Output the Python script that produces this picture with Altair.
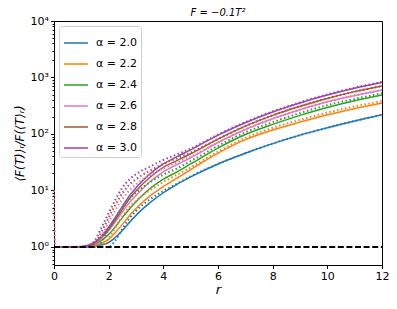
import altair as alt
import pandas as pd

R = [0, 0.5, 1, 1.25, 1.5, 1.75, 2, 2.25, 2.5, 2.75, 3, 3.5, 4, 4.5, 5, 6, 7, 8, 9, 10, 11, 12]
RD = [0, 0.05, 0.5, 1, 1.25, 1.5, 1.75, 2, 2.25, 2.5, 2.75, 3, 3.5, 4, 4.5, 5, 6, 7, 8, 9, 10, 11, 12]

labels = ["α = 2.0", "α = 2.2", "α = 2.4", "α = 2.6", "α = 2.8", "α = 3.0"]
colors = ["#1f77b4", "#ff7f0e", "#2ca02c", "#e377c2", "#a8582c", "#a040b5"]

solid_20 = [1, 1, 1, 1.012, 1.035, 1.096, 1.202, 1.479, 1.950, 2.692, 3.631, 6.026, 9.120, 12.88, 17.38, 29.51, 45.71, 67.61, 95.50, 128.8, 169.8, 218.8]
solid_22 = [1, 1, 1.005, 1.023, 1.072, 1.175, 1.380, 1.820, 2.512, 3.548, 4.786, 7.943, 11.75, 16.60, 23.44, 45.71, 79.43, 117.5, 162.2, 218.8, 281.8, 354.8]
solid_24 = [1, 1, 1.009, 1.035, 1.122, 1.318, 1.660, 2.291, 3.311, 4.677, 6.310, 10.72, 15.85, 21.38, 29.51, 56.23, 97.72, 147.9, 213.8, 295.1, 389.0, 489.8]
solid_26 = [1, 1, 1.012, 1.047, 1.175, 1.445, 1.950, 2.818, 4.169, 6.026, 8.128, 14.13, 21.38, 28.84, 38.02, 70.79, 120.2, 186.2, 269.2, 371.5, 478.6, 602.6]
solid_28 = [1, 1, 1.014, 1.059, 1.202, 1.514, 2.089, 3.090, 4.677, 7.079, 9.772, 16.98, 25.70, 33.88, 44.67, 81.28, 138.0, 213.8, 309.0, 426.6, 562.3, 707.9]
solid_30 = [1, 1, 1.016, 1.072, 1.230, 1.585, 2.239, 3.388, 5.248, 7.943, 11.22, 19.50, 29.51, 39.81, 52.48, 95.50, 158.5, 245.5, 354.8, 489.8, 645.7, 812.8]

dot_20 = [1, 1, 1, 1, 1, 1, 1, 1, 1.318, 2.089, 3.162, 4.365, 6.918, 9.772, 13.18, 17.78, 29.51, 45.71, 67.61, 95.50, 128.8, 169.8, 218.8]
dot_22 = [1, 1, 1, 1, 1, 1, 1, 1.413, 2.239, 3.467, 5.012, 6.607, 10.0, 14.13, 19.05, 25.70, 48.98, 85.11, 128.8, 177.8, 239.9, 309.0, 380.2]
dot_24 = [1, 1, 1, 1, 1, 1, 1.259, 1.995, 3.162, 4.786, 6.918, 9.120, 13.80, 19.05, 24.55, 33.11, 61.66, 107.2, 162.2, 234.4, 323.6, 416.9, 524.8]
dot_26 = [10.0, 1, 1, 1, 1, 1, 1.585, 2.754, 4.571, 7.079, 10.0, 12.88, 18.62, 24.55, 31.62, 39.81, 70.79, 120.2, 186.2, 269.2, 371.5, 478.6, 602.6]
dot_28 = [1, 1, 1, 1, 1, 1.148, 1.905, 3.311, 5.623, 8.913, 12.59, 15.85, 22.39, 29.51, 37.15, 46.77, 81.28, 138.0, 213.8, 309.0, 426.6, 562.3, 707.9]
dot_30 = [1, 1, 1, 1, 1.047, 1.318, 2.291, 3.981, 6.918, 11.22, 15.49, 19.50, 26.30, 34.67, 43.65, 54.95, 97.72, 162.2, 251.2, 363.1, 501.2, 660.7, 831.8]

solids = [solid_20, solid_22, solid_24, solid_26, solid_28, solid_30]
dots = [dot_20, dot_22, dot_24, dot_26, dot_28, dot_30]

rows = []
for lab, ys in zip(labels, solids):
    for i, (r, y) in enumerate(zip(R, ys)):
        rows.append({"r": r, "v": y, "alpha": lab, "i": i})
df_solid = pd.DataFrame(rows)

rows = []
for lab, ys in zip(labels, dots):
    for i, (r, y) in enumerate(zip(RD, ys)):
        rows.append({"r": r, "v": y, "alpha": lab, "i": i})
df_dot = pd.DataFrame(rows)

df_ref = pd.DataFrame({"r": [0, 12], "v": [1, 1]})

majors = [1, 10, 100, 1000, 10000]
minors = [0.5, 0.6, 0.7, 0.8, 0.9] + [m * d for d in [1, 10, 100, 1000] for m in range(2, 10)]
xticks = [0, 2, 4, 6, 8, 10, 12]

FONT = "DejaVu Sans"
W, H = 328, 244

xscale = alt.Scale(domain=[0, 12], nice=False, zero=False)
yscale = alt.Scale(type="log", domain=[0.48, 10000], nice=False)

xaxis = alt.Axis(values=xticks, title="r", titleFontStyle="italic", titleFontWeight="normal",
                 titleFontSize=13, labelFontSize=11, grid=False, tickSize=3.5, labelFlush=False,
                 domainColor="black", tickColor="black", labelColor="black", titleColor="black",
                 labelPadding=2, titlePadding=2)
yaxis = alt.Axis(values=majors + minors, title="⟨F(T)⟩ᵣ/F(⟨T⟩ᵣ)", titleFontStyle="italic",
                 titleFontWeight="normal", titleFontSize=12, labelFontSize=11, grid=False,
                 labelFlush=False,
                 labelExpr="datum.value==1?'10⁰':datum.value==10?'10¹':datum.value==100?'10²':datum.value==1000?'10³':datum.value==10000?'10⁴':''",
                 tickSize={"condition": {"test": "indexof([1,10,100,1000,10000], datum.value) >= 0", "value": 3.5}, "value": 2},
                 domainColor="black", tickColor="black", labelColor="black", titleColor="black",
                 labelPadding=2, titlePadding=4)

color = alt.Color("alpha:N", scale=alt.Scale(domain=labels, range=colors),
                  legend=alt.Legend(title=None, orient="top-left", offset=5, padding=4,
                                    fillColor="white", strokeColor="#d0d0d0", cornerRadius=3,
                                    labelFontSize=11, labelFont=FONT, symbolType="stroke",
                                    symbolStrokeWidth=1.5, symbolSize=576, rowPadding=3,
                                    labelOffset=7, symbolDash=[1, 0], labelColor="black"))

solid = alt.Chart(df_solid).mark_line(strokeWidth=1.5, interpolate="monotone").encode(
    x=alt.X("r:Q", scale=xscale, axis=xaxis),
    y=alt.Y("v:Q", scale=yscale, axis=yaxis),
    color=color,
    order="i:O",
)

dotted = alt.Chart(df_dot).mark_line(strokeWidth=2, strokeDash=[1.5, 2.5], interpolate="monotone").encode(
    x="r:Q",
    y="v:Q",
    color=alt.Color("alpha:N", scale=alt.Scale(domain=labels, range=colors)),
    order="i:O",
)

ref = alt.Chart(df_ref).mark_line(color="black", strokeWidth=1.8, strokeDash=[6, 2.6]).encode(
    x="r:Q",
    y="v:Q",
)

chart = alt.layer(solid, dotted, ref).properties(
    width=W, height=H,
    autosize=alt.AutoSizeParams(type="none"),
    padding={"left": 46, "top": 13, "right": 7, "bottom": 36},
    title=alt.Title("F = −0.1T²", fontSize=10, fontWeight="normal", fontStyle="italic",
                    font=FONT, color="black", offset=0, dy=3),
).configure(font=FONT, view=alt.ViewConfig(stroke="#000000", strokeWidth=1, strokeOpacity=1))

chart.save("out.html", embed_options={"renderer": "svg", "actions": False})
